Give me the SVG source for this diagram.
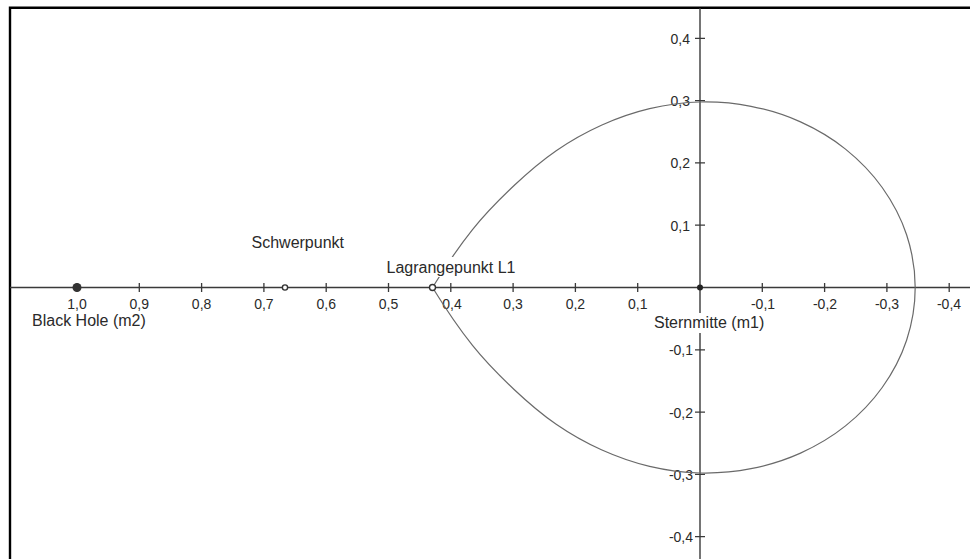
<svg xmlns="http://www.w3.org/2000/svg" width="970" height="559" viewBox="0 0 970 559">
<style>
.ax{stroke:#3a3a3a;stroke-width:1.4;fill:none}
.tk{stroke:#3a3a3a;stroke-width:1.3}
.num{font-family:"Liberation Sans",Arial,sans-serif;font-size:14px;fill:#2a2a2a}
.lbl{font-family:"Liberation Sans",Arial,sans-serif;font-size:16px;fill:#2a2a2a}
.lobe{stroke:#6a6a6a;stroke-width:1.2;fill:none}
</style>
<rect x="0" y="0" width="970" height="559" fill="#fff"/>
<path d="M10,559 V7.7 H970" stroke="#000" stroke-width="2.4" fill="none"/>
<g id="axes">
<line class="ax" x1="10" y1="287.5" x2="970" y2="287.5"/>
<line class="ax" x1="700" y1="8" x2="700" y2="559"/>
<g id="xticks">
<path class="tk" d="M77,283V292 M139.3,283V292 M201.6,283V292 M263.9,283V292 M326.2,283V292 M388.5,283V292 M450.8,283V292 M513.1,283V292 M575.4,283V292 M637.7,283V292 M762.3,283V292 M824.6,283V292 M886.9,283V292 M949.2,283V292"/>
</g>
<g id="yticks">
<path class="tk" d="M695,38.3H705 M695,100.6H705 M695,162.9H705 M695,225.2H705 M695,349.8H705 M695,412.1H705 M695,474.4H705 M695,536.7H705"/>
</g>
<g id="xlabels" class="num" text-anchor="middle">
<text x="77" y="308.5">1,0</text>
<text x="139.3" y="308.5">0,9</text>
<text x="201.6" y="308.5">0,8</text>
<text x="263.9" y="308.5">0,7</text>
<text x="326.2" y="308.5">0,6</text>
<text x="388.5" y="308.5">0,5</text>
<text x="452" y="308.5">0,4</text>
<text x="513.1" y="308.5">0,3</text>
<text x="575.4" y="308.5">0,2</text>
<text x="637.7" y="308.5">0,1</text>
<text x="763" y="308.5">-0,1</text>
<text x="825" y="308.5">-0,2</text>
<text x="887" y="308.5">-0,3</text>
<text x="949" y="308.5">-0,4</text>
</g>
<g id="ylabels" class="num" text-anchor="end">
<text x="690" y="43.5">0,4</text>
<text x="690" y="106">0,3</text>
<text x="690" y="168">0,2</text>
<text x="690" y="230.5">0,1</text>
<text x="693" y="355">-0,1</text>
<text x="693" y="417.5">-0,2</text>
<text x="693" y="479.5">-0,3</text>
<text x="693" y="542">-0,4</text>
</g>
</g>
<g id="roche-lobe">
<path id="upper" class="lobe" d="M432.5,287.5 C444.6,267.9 458.9,246.6 472.5,229.6 C486.1,212.6 500.15,198.65 514.1,185.5 C528.05,172.35 541.65,160.75 556.2,150.7 C570.75,140.65 585.83,132.22 601.4,125.2 C616.97,118.18 633.17,112.47 649.6,108.6 C666.03,104.73 683.1,102.38 700,102 C716.9,101.62 734.25,102.98 751,106.3 C767.75,109.62 784.75,114.77 800.5,121.9 C816.25,129.03 831.88,138.17 845.5,149.1 C859.12,160.03 872.02,173.22 882.2,187.5 C892.38,201.78 901.1,218.13 906.6,234.8 C912.1,251.47 915.2,269.9 915.2,287.5"/>
<path id="lower" class="lobe" transform="translate(0,575) scale(1,-1)" d="M432.5,287.5 C444.6,267.9 458.9,246.6 472.5,229.6 C486.1,212.6 500.15,198.65 514.1,185.5 C528.05,172.35 541.65,160.75 556.2,150.7 C570.75,140.65 585.83,132.22 601.4,125.2 C616.97,118.18 633.17,112.47 649.6,108.6 C666.03,104.73 683.1,102.38 700,102 C716.9,101.62 734.25,102.98 751,106.3 C767.75,109.62 784.75,114.77 800.5,121.9 C816.25,129.03 831.88,138.17 845.5,149.1 C859.12,160.03 872.02,173.22 882.2,187.5 C892.38,201.78 901.1,218.13 906.6,234.8 C912.1,251.47 915.2,269.9 915.2,287.5"/>
</g>
<g id="black-hole">
<circle cx="77" cy="287.5" r="4.5" fill="#333"/>
<text class="lbl" x="32" y="325.5">Black Hole (m2)</text>
</g>
<g id="schwerpunkt">
<circle cx="285" cy="287.5" r="2.6" fill="#fff" stroke="#333" stroke-width="1.4"/>
<text class="lbl" x="251.5" y="247.7">Schwerpunkt</text>
</g>
<g id="lagrange-l1">
<rect x="385" y="257" width="134" height="20" fill="#fff"/>
<circle cx="432.5" cy="287.5" r="3" fill="#fff" stroke="#333" stroke-width="1.4"/>
<text class="lbl" x="386.5" y="273.3">Lagrangepunkt L1</text>
</g>
<g id="sternmitte">
<rect x="652" y="313" width="112" height="20" fill="#fff"/>
<circle cx="700" cy="287.5" r="3" fill="#222"/>
<text class="lbl" x="654" y="328">Sternmitte (m1)</text>
</g>
</svg>
